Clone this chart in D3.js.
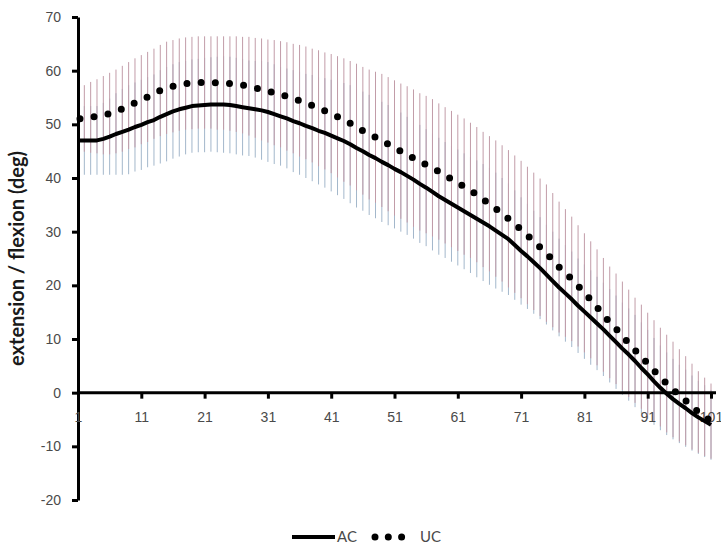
<!DOCTYPE html>
<html>
<head>
<meta charset="utf-8">
<script src="https://cdn.jsdelivr.net/npm/d3@7"></script>
<style>
  body { margin: 0; background: #fff; }
  svg { display: block; }
</style>
</head>
<body>
<div id="chart"></div>
<script>
// sample index (percent of cycle), 1..101
const categories = d3.range(1, 102)
const xTicks = [1, 11, 21, 31, 41, 51, 61, 71, 81, 91, 101]
const yTicks = [-20, -10, 0, 10, 20, 30, 40, 50, 60, 70]

const acMean = [
  47.0, 47.0, 47.0, 47.0, 47.3, 47.7, 48.2, 48.6, 49.0, 49.5,
  49.9, 50.4, 50.8, 51.4, 51.9, 52.4, 52.8, 53.1, 53.4, 53.5,
  53.6, 53.7, 53.7, 53.7, 53.6, 53.4, 53.2, 53.0, 52.8, 52.6,
  52.3, 51.9, 51.5, 51.1, 50.6, 50.2, 49.7, 49.3, 48.8, 48.4,
  47.9, 47.4, 46.9, 46.3, 45.6, 45.0, 44.3, 43.7, 43.0, 42.4,
  41.7, 41.1, 40.4, 39.7, 38.9, 38.2, 37.4, 36.6, 35.9, 35.2,
  34.5, 33.8, 33.1, 32.4, 31.7, 31.0, 30.2, 29.4, 28.6, 27.5,
  26.4, 25.4, 24.3, 23.2, 22.0, 20.8, 19.6, 18.5, 17.4, 16.2,
  15.1, 14.0, 12.9, 11.8, 10.6, 9.4, 8.2, 7.1, 5.9, 4.6,
  3.4, 2.1, 0.9, -0.2, -1.2, -2.1, -2.9, -3.8, -4.6, -5.3,
  -6.0
]
const acSd = [
  6.4, 6.4, 6.4, 6.4, 6.7, 7.1, 7.6, 8.0, 8.3, 8.3,
  8.4, 8.4, 8.5, 8.7, 8.8, 8.8, 8.8, 8.7, 8.7, 8.7,
  8.8, 8.8, 8.9, 9.0, 9.0, 9.0, 9.0, 8.9, 9.0, 9.2,
  9.3, 9.3, 9.2, 9.3, 9.5, 9.6, 9.7, 9.9, 10.0, 10.2,
  10.4, 10.6, 10.8, 11.0, 11.1, 11.1, 11.2, 11.2, 11.2, 11.2,
  11.1, 11.1, 11.0, 11.0, 11.0, 10.9, 10.9, 10.9, 10.8, 10.8,
  10.8, 10.8, 10.8, 10.9, 10.9, 10.9, 10.8, 10.6, 10.4, 10.2,
  10.0, 9.8, 9.6, 9.5, 9.3, 9.2, 9.1, 9.0, 8.9, 8.8,
  8.8, 8.8, 8.7, 8.7, 8.7, 8.7, 8.6, 8.6, 8.6, 8.5,
  8.3, 8.1, 7.9, 7.7, 7.5, 7.3, 7.2, 7.0, 6.8, 6.7,
  6.5
]
const ucMean = [
  51.0, 51.1, 51.3, 51.5, 51.7, 52.0, 52.4, 52.9, 53.5, 54.0,
  54.6, 55.1, 55.7, 56.3, 56.8, 57.1, 57.4, 57.6, 57.7, 57.8,
  57.8, 57.8, 57.7, 57.7, 57.6, 57.5, 57.3, 57.1, 56.8, 56.5,
  56.2, 55.9, 55.6, 55.2, 54.8, 54.4, 54.0, 53.5, 53.0, 52.5,
  52.0, 51.4, 50.8, 50.2, 49.5, 48.8, 48.1, 47.6, 47.0, 46.3,
  45.6, 45.0, 44.4, 43.7, 43.0, 42.5, 41.9, 41.2, 40.5, 39.8,
  39.1, 38.4, 37.7, 36.9, 36.0, 35.2, 34.3, 33.4, 32.4, 31.4,
  30.4, 29.3, 28.2, 27.1, 26.0, 24.7, 23.4, 22.3, 21.2, 19.9,
  18.6, 17.3, 15.9, 14.5, 13.1, 11.9, 10.6, 9.2, 7.9, 6.7,
  5.4, 4.1, 2.9, 1.7, 0.6, -0.5, -1.5, -2.6, -3.6, -4.5,
  -5.3
]
const ucSd = [
  6.1, 6.2, 6.6, 6.9, 7.3, 7.6, 7.8, 8.0, 8.1, 8.3,
  8.3, 8.4, 8.4, 8.5, 8.6, 8.6, 8.6, 8.6, 8.6, 8.6,
  8.6, 8.6, 8.7, 8.7, 8.8, 8.9, 9.0, 9.2, 9.3, 9.5,
  9.6, 9.8, 9.9, 10.1, 10.2, 10.4, 10.5, 10.6, 10.8, 10.9,
  11.1, 11.3, 11.5, 11.6, 11.8, 11.9, 12.1, 12.2, 12.4, 12.5,
  12.6, 12.6, 12.7, 12.8, 12.8, 12.8, 12.8, 12.7, 12.7, 12.7,
  12.7, 12.7, 12.6, 12.6, 12.6, 12.6, 12.7, 12.7, 12.8, 12.8,
  12.8, 12.8, 12.8, 12.8, 12.8, 12.5, 12.2, 11.9, 11.6, 11.3,
  11.1, 10.9, 10.8, 10.6, 10.4, 10.3, 10.1, 10.0, 9.8, 9.7,
  9.5, 9.4, 9.2, 9.1, 8.9, 8.6, 8.3, 8.0, 7.6, 7.3,
  7.0
]
const seriesNames = ['AC', 'UC']

const width = 721, height = 546
const margins = {top: 17, right: 10, bottom: 46, left: 78}

const colors = {
  text: '#4a4a4a',
  axis: '#000',
  acBar: '#a3b7cb',
  ucBar: '#c29ca8',
  line: '#000'
}

const x = d3.scaleLinear()
  .domain([1, 101])
  .range([margins.left, 711])

const y = d3.scaleLinear()
  .domain([-20, 70])
  .range([500, margins.top])

const svg = d3.select('#chart')
  .append('svg')
    .attr('width', width)
    .attr('height', height)
    .style('font-family', 'Lato, "Open Sans", sans-serif')

const rows = categories.map((c, i) => ({
  c: c, ac: acMean[i], acSd: acSd[i], uc: ucMean[i], ucSd: ucSd[i]
}))

// error bars: AC underneath, UC on top
svg.append('g')
  .selectAll('line')
  .data(rows)
  .join('line')
    .attr('x1', d => x(d.c)).attr('x2', d => x(d.c))
    .attr('y1', d => y(d.ac - d.acSd)).attr('y2', d => y(d.ac + d.acSd))
    .attr('stroke', colors.acBar)
    .attr('stroke-width', 1)

svg.append('g')
  .selectAll('line')
  .data(rows)
  .join('line')
    .attr('x1', d => x(d.c)).attr('x2', d => x(d.c))
    .attr('y1', d => y(d.uc - d.ucSd)).attr('y2', d => y(d.uc + d.ucSd))
    .attr('stroke', colors.ucBar)
    .attr('stroke-width', 1)

// y axis
const yAxis = d3.axisLeft(y)
  .tickValues(yTicks)
  .tickFormat(d => String(d))
  .tickSize(6)
  .tickSizeOuter(0)
  .tickPadding(11)

const gy = svg.append('g')
  .attr('transform', `translate(${margins.left},0)`)
  .call(yAxis)
gy.select('.domain').attr('stroke-width', 3).attr('stroke', colors.axis)
gy.selectAll('.tick line').attr('stroke-width', 3).attr('stroke', colors.axis)
gy.selectAll('.tick text')
  .attr('fill', colors.text)
  .style('font-size', '14px')

// x axis crosses at 0
const xAxis = d3.axisBottom(x)
  .tickValues(xTicks)
  .tickFormat(d => String(d))
  .tickSize(6)
  .tickSizeOuter(0)
  .tickPadding(13)

const gx = svg.append('g')
  .attr('transform', `translate(0,${y(0)})`)
  .call(xAxis)
gx.select('.domain').remove()
gx.append('line')
  .attr('x1', x.range()[0]).attr('x2', x.range()[1] + 5)
  .attr('stroke', colors.axis)
  .attr('stroke-width', 3)
gx.selectAll('.tick line').attr('stroke-width', 3).attr('stroke', colors.axis)
gx.selectAll('.tick text')
  .attr('fill', colors.text)
  .style('font-size', '14px')

// series lines
const line = d3.line()
  .x((d, i) => x(categories[i]))
  .y(d => y(d))

svg.append('path')
  .datum(acMean)
  .attr('d', line)
  .attr('fill', 'none')
  .attr('stroke', colors.line)
  .attr('stroke-width', 4)
  .attr('stroke-linejoin', 'round')

svg.append('path')
  .datum(ucMean)
  .attr('d', line)
  .attr('fill', 'none')
  .attr('stroke', colors.line)
  .attr('stroke-width', 7)
  .attr('stroke-linecap', 'round')
  .attr('stroke-dasharray', '0,14.2')
  .attr('stroke-dashoffset', -2)

// y axis title
svg.append('text')
  .attr('transform', `translate(24,${(y(70) + y(-20)) / 2}) rotate(-90)`)
  .attr('text-anchor', 'middle')
  .attr('font-weight', 'bold')
  .attr('fill', '#1a1a1a')
  .style('font-size', '20px')
  .text('extension / flexion (deg)')

// legend
const legend = svg.append('g').attr('transform', 'translate(292,537)')
legend.append('line')
  .attr('x1', 0).attr('x2', 43)
  .attr('stroke', colors.line).attr('stroke-width', 4)
legend.append('text')
  .attr('x', 45).attr('dy', '0.35em')
  .attr('fill', colors.text)
  .style('font-size', '15px')
  .text(seriesNames[0])
legend.append('line')
  .attr('x1', 83).attr('x2', 110)
  .attr('stroke', colors.line).attr('stroke-width', 7)
  .attr('stroke-linecap', 'round')
  .attr('stroke-dasharray', '0,13.3')
legend.append('text')
  .attr('x', 128).attr('dy', '0.35em')
  .attr('fill', colors.text)
  .style('font-size', '15px')
  .text(seriesNames[1])
</script>
</body>
</html>
